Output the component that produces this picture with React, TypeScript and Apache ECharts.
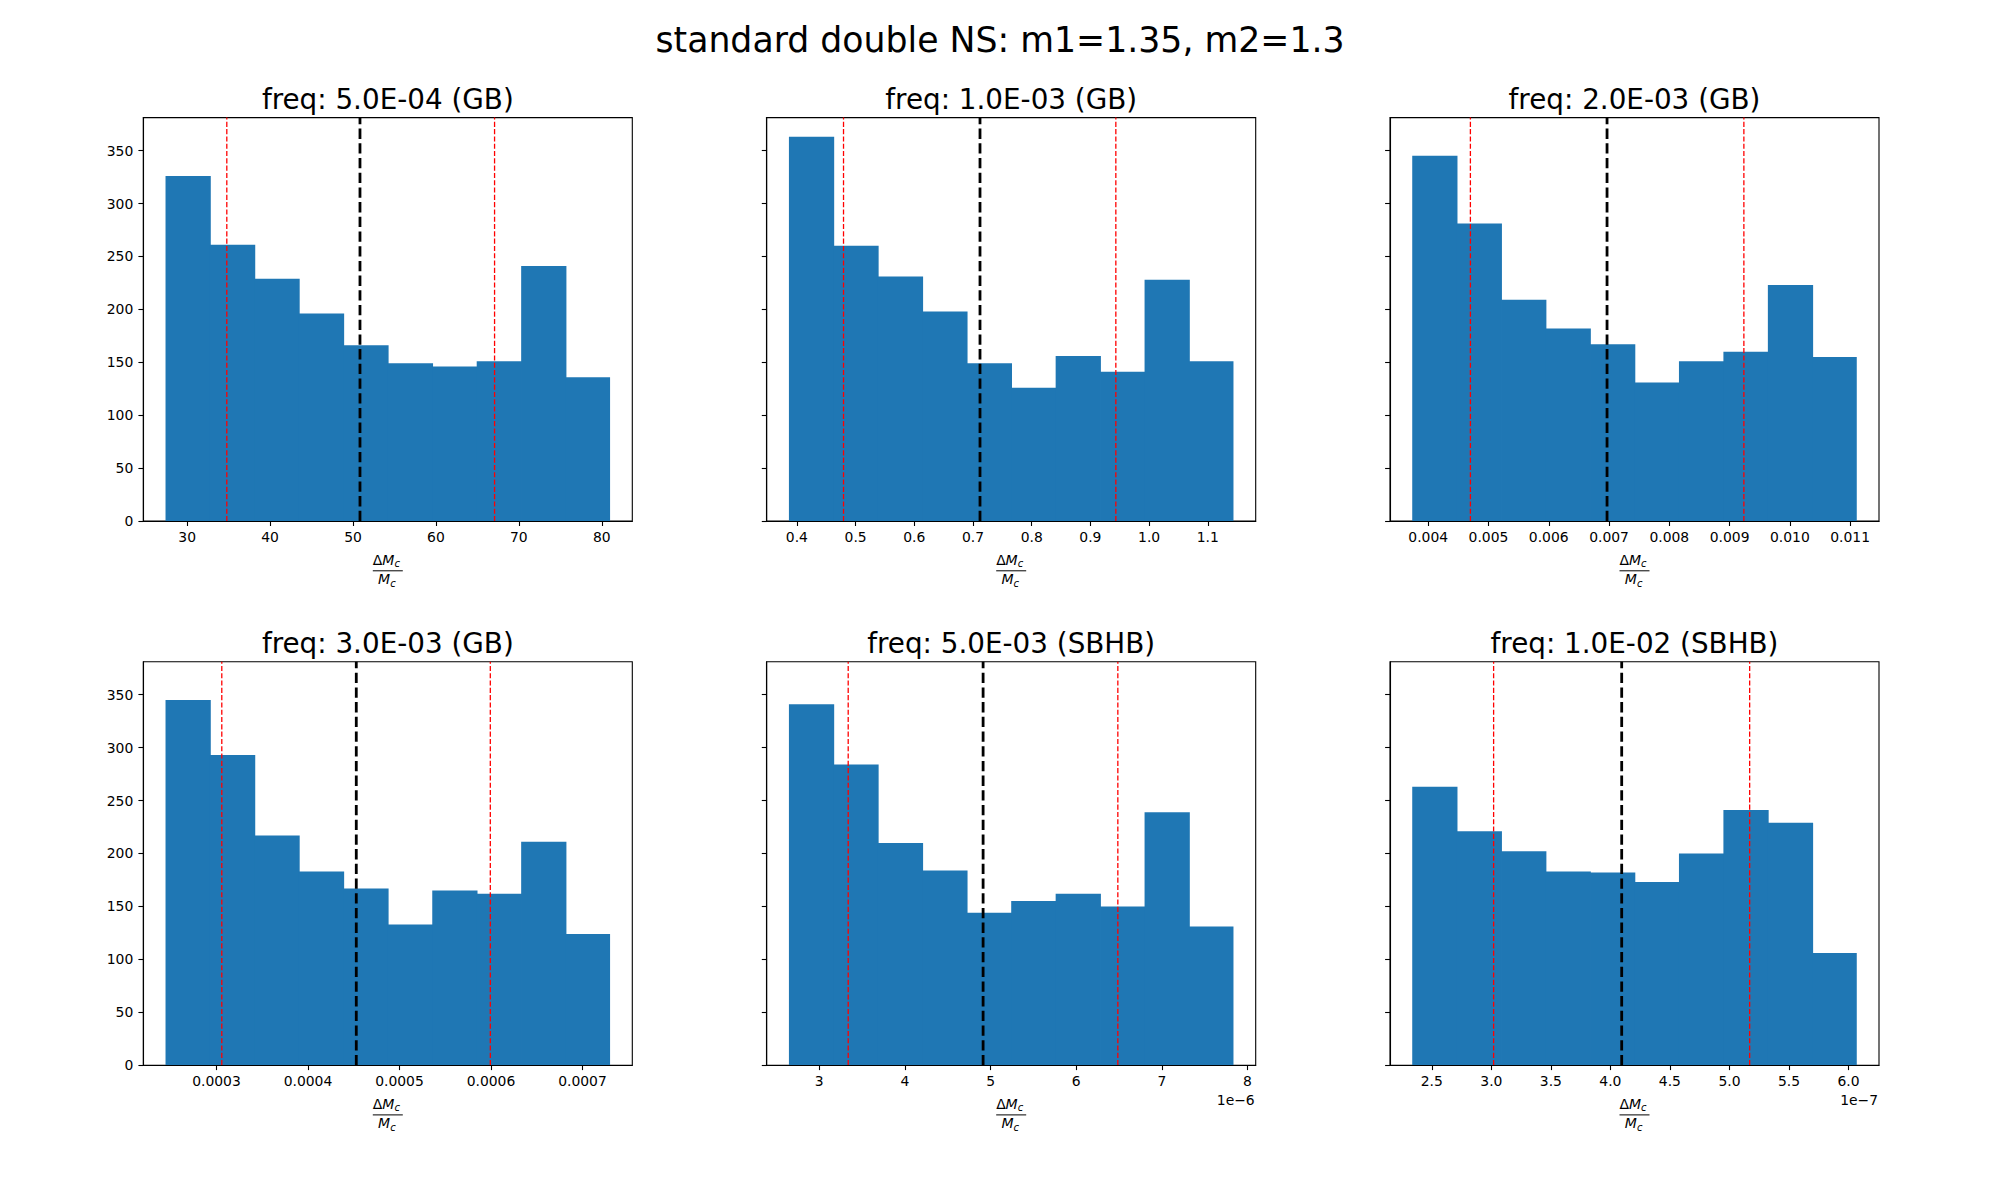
import React, { useEffect, useRef } from "react";
import * as echarts from "echarts";

// ---------------- data ----------------
const SUPTITLE = "standard double NS: m1=1.35, m2=1.3";
const TITLES = [
  "freq: 5.0E-04 (GB)",
  "freq: 1.0E-03 (GB)",
  "freq: 2.0E-03 (GB)",
  "freq: 3.0E-03 (GB)",
  "freq: 5.0E-03 (SBHB)",
  "freq: 1.0E-02 (SBHB)",
];
// histogram range (first bin left edge, last bin right edge); panels 5/6 in units of the offset
const BIN_LO = [27.39, 0.3864, 0.003735, 0.0002443, 2.646, 2.3353];
const BIN_HI = [81.0, 1.1437, 0.01111, 0.0007302, 7.836, 6.0698];

const COUNTS_1 = [326, 261, 229, 196, 166, 149, 146, 151, 241, 136];
const COUNTS_2 = [363, 260, 231, 198, 149, 126, 156, 141, 228, 151];
const COUNTS_3 = [345, 281, 209, 182, 167, 131, 151, 160, 223, 155];
const COUNTS_4 = [345, 293, 217, 183, 167, 133, 165, 162, 211, 124];
const COUNTS_5 = [341, 284, 210, 184, 144, 155, 162, 150, 239, 131];
const COUNTS_6 = [263, 221, 202, 183, 182, 173, 200, 241, 229, 106];
const COUNTS = [COUNTS_1, COUNTS_2, COUNTS_3, COUNTS_4, COUNTS_5, COUNTS_6];

const LOWER = [34.78, 0.4794, 0.0047, 0.0003058, 3.338, 3.019];
const UPPER = [67.07, 0.9433, 0.009237, 0.0005993, 6.486, 5.17];
const MEDIAN = [50.84, 0.7119, 0.006967, 0.0004528, 4.913, 4.095];

const X_TICKS_1 = [30, 40, 50, 60, 70, 80];
const X_TICKS_2 = [0.4, 0.5, 0.6, 0.7, 0.8, 0.9, 1.0, 1.1];
const X_TICKS_3 = [0.004, 0.005, 0.006, 0.007, 0.008, 0.009, 0.01, 0.011];
const X_TICKS_4 = [0.0003, 0.0004, 0.0005, 0.0006, 0.0007];
const X_TICKS_5 = [3, 4, 5, 6, 7, 8];
const X_TICKS_6 = [2.5, 3.0, 3.5, 4.0, 4.5, 5.0, 5.5, 6.0];
const X_TICKS = [X_TICKS_1, X_TICKS_2, X_TICKS_3, X_TICKS_4, X_TICKS_5, X_TICKS_6];

const X_LABELS_1 = ["30", "40", "50", "60", "70", "80"];
const X_LABELS_2 = ["0.4", "0.5", "0.6", "0.7", "0.8", "0.9", "1.0", "1.1"];
const X_LABELS_3 = ["0.004", "0.005", "0.006", "0.007", "0.008", "0.009", "0.010", "0.011"];
const X_LABELS_4 = ["0.0003", "0.0004", "0.0005", "0.0006", "0.0007"];
const X_LABELS_5 = ["3", "4", "5", "6", "7", "8"];
const X_LABELS_6 = ["2.5", "3.0", "3.5", "4.0", "4.5", "5.0", "5.5", "6.0"];
const X_LABELS = [X_LABELS_1, X_LABELS_2, X_LABELS_3, X_LABELS_4, X_LABELS_5, X_LABELS_6];

const OFFSETS = ["", "", "", "", "1e\u22126", "1e\u22127"];

const Y_TICKS = [0, 50, 100, 150, 200, 250, 300, 350];
const Y_LABELS = ["0", "50", "100", "150", "200", "250", "300", "350"];

// ---------------- layout ----------------
const FONT = "DejaVu Sans";
const COL_LEFT = [143.3, 766.7, 1390];
const ROW_TOP = [117.6, 661.7];
const W = 489;
const H = 403.5;
const BLUE = "#1f77b4";

function buildOption() {
  const maxCount = Math.max(...COUNTS.flat());
  const yMax = maxCount * 1.05;

  const grids: any[] = [];
  const xAxes: any[] = [];
  const yAxes: any[] = [];
  const series: any[] = [];
  const graphics: any[] = [];

  graphics.push({
    type: "text",
    x: 1000,
    y: 39.5,
    style: {
      text: SUPTITLE,
      fontSize: 34.7,
      fontFamily: FONT,
      fill: "#000",
      align: "center",
      verticalAlign: "middle",
    },
  });

  for (let p = 0; p < 6; p++) {
    const col = p % 3;
    const row = Math.floor(p / 3);
    const left = COL_LEFT[col];
    const top = ROW_TOP[row];
    const cx = left + W / 2;
    const yb = top + H;

    grids.push({
      left,
      top,
      width: W,
      height: H,
      show: true,
      borderColor: "#000",
      borderWidth: 1.1,
      backgroundColor: "transparent",
    });

    const lo = BIN_LO[p];
    const hi = BIN_HI[p];
    const span = hi - lo;
    const ticks = X_TICKS[p];
    const labels = X_LABELS[p];

    xAxes.push({
      type: "value",
      gridIndex: p,
      min: lo - 0.05 * span,
      max: hi + 0.05 * span,
      splitLine: { show: false },
      axisLine: { show: true, onZero: false, lineStyle: { color: "#000", width: 1.1 } },
      axisTick: { show: true, length: 4.9, customValues: ticks, lineStyle: { color: "#000", width: 1.1 } },
      axisLabel: {
        show: true,
        customValues: ticks,
        margin: 9,
        fontSize: 13.9,
        fontFamily: FONT,
        color: "#000",
        formatter: (v: number) => {
          let best = 0;
          for (let i = 0; i < ticks.length; i++) {
            if (Math.abs(ticks[i] - v) < Math.abs(ticks[best] - v)) best = i;
          }
          return labels[best];
        },
      },
      z: 5,
    });

    yAxes.push({
      type: "value",
      gridIndex: p,
      min: 0,
      max: yMax,
      splitLine: { show: false },
      axisLine: { show: true, lineStyle: { color: "#000", width: 1.1 } },
      axisTick: { show: true, length: 4.9, customValues: Y_TICKS, lineStyle: { color: "#000", width: 1.1 } },
      axisLabel: {
        show: col === 0,
        customValues: Y_TICKS,
        margin: 10,
        fontSize: 13.9,
        fontFamily: FONT,
        color: "#000",
        formatter: (v: number) => {
          const i = Y_TICKS.indexOf(v);
          return i >= 0 ? Y_LABELS[i] : "";
        },
      },
      z: 5,
    });

    const counts = COUNTS[p];
    const nBins = counts.length;
    const binW = span / nBins;
    const data = counts.map((c, i) => [lo + i * binW, lo + (i + 1) * binW, c, i]);

    series.push({
      type: "custom",
      xAxisIndex: p,
      yAxisIndex: p,
      data,
      encode: { x: [0, 1], y: 2 },
      clip: true,
      renderItem: (params: any, api: any) => {
        const x0 = api.value(0);
        const x1 = api.value(1);
        const c = api.value(2);
        const idx = api.value(3);
        const pTop = api.coord([x0, c]);
        const pBot = api.coord([x1, 0]);
        // slight overlap into the neighbouring bin hides anti-aliasing seams
        const extra = idx < nBins - 1 ? 0.8 : 0;
        return {
          type: "rect",
          shape: {
            x: pTop[0],
            y: pTop[1],
            width: pBot[0] - pTop[0] + extra,
            height: pBot[1] - pTop[1],
          },
          style: { fill: BLUE },
        };
      },
      z: 1,
    });

    const vline = (x: number, color: string, width: number, dash: number[]) => ({
      type: "line",
      xAxisIndex: p,
      yAxisIndex: p,
      data: [
        [x, 0],
        [x, yMax],
      ],
      symbol: "none",
      silent: true,
      lineStyle: { color, width, type: dash },
      z: 3,
    });
    series.push(vline(LOWER[p], "#ff0000", 1.3, [5.1, 2.2]));
    series.push(vline(UPPER[p], "#ff0000", 1.3, [5.1, 2.2]));
    series.push(vline(MEDIAN[p], "#000000", 2.8, [10.3, 4.4]));

    // subplot title
    graphics.push({
      type: "text",
      x: cx,
      y: top - 18,
      style: {
        text: TITLES[p],
        fontSize: 27.8,
        fontFamily: FONT,
        fill: "#000",
        align: "center",
        verticalAlign: "middle",
      },
    });

    // x label: fraction ΔM_c / M_c
    const x0 = cx - 15;
    graphics.push({
      type: "text",
      x: x0,
      y: yb + 38.5,
      style: { text: "\u0394", fontSize: 14, fontFamily: FONT, fill: "#000", align: "left", verticalAlign: "middle" },
    });
    graphics.push({
      type: "text",
      x: x0 + 9.4,
      y: yb + 38.5,
      style: { text: "M", fontSize: 14, fontStyle: "italic", fontFamily: FONT, fill: "#000", align: "left", verticalAlign: "middle" },
    });
    graphics.push({
      type: "text",
      x: x0 + 21.6,
      y: yb + 42.5,
      style: { text: "c", fontSize: 10, fontStyle: "italic", fontFamily: FONT, fill: "#000", align: "left", verticalAlign: "middle" },
    });
    graphics.push({
      type: "line",
      shape: { x1: cx - 15, y1: yb + 49.7, x2: cx + 15, y2: yb + 49.7 },
      style: { stroke: "#000", lineWidth: 1 },
    });
    graphics.push({
      type: "text",
      x: cx - 9.8,
      y: yb + 58.2,
      style: { text: "M", fontSize: 14, fontStyle: "italic", fontFamily: FONT, fill: "#000", align: "left", verticalAlign: "middle" },
    });
    graphics.push({
      type: "text",
      x: cx + 2.4,
      y: yb + 62,
      style: { text: "c", fontSize: 10, fontStyle: "italic", fontFamily: FONT, fill: "#000", align: "left", verticalAlign: "middle" },
    });

    if (OFFSETS[p]) {
      graphics.push({
        type: "text",
        x: left + W - 1,
        y: yb + 34.5,
        style: {
          text: OFFSETS[p],
          fontSize: 13.9,
          fontFamily: FONT,
          fill: "#000",
          align: "right",
          verticalAlign: "middle",
        },
      });
    }
  }

  return {
    animation: false,
    backgroundColor: "#ffffff",
    textStyle: { fontFamily: FONT },
    grid: grids,
    xAxis: xAxes,
    yAxis: yAxes,
    series,
    graphic: { elements: graphics },
  };
}

export default function App() {
  const ref = useRef<HTMLDivElement>(null);
  useEffect(() => {
    if (!ref.current) return;
    const chart = echarts.init(ref.current, undefined, { renderer: "svg" });
    chart.setOption(buildOption() as any);
    return () => chart.dispose();
  }, []);
  return (
    <div
      ref={ref}
      style={{ position: "fixed", left: 0, top: 0, width: 2000, height: 1200, background: "#fff" }}
    />
  );
}
